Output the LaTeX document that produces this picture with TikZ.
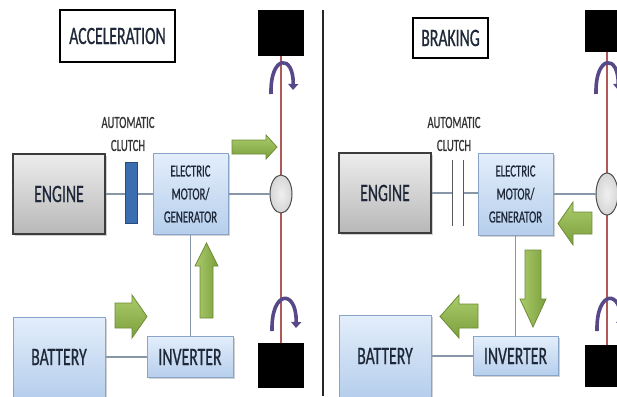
\documentclass[tikz,border=0pt]{standalone}
\usepackage{fontspec}
\newfontfamily\cf{Carlito}[FakeStretch=0.63,FakeBold=0.6]
\usetikzlibrary{shadows,arrows.meta,shapes.geometric}
\definecolor{blueT}{HTML}{E3EEFB}
\definecolor{blueB}{HTML}{B6CEEC}
\definecolor{blueBd}{HTML}{88A4C6}
\definecolor{greyBd}{HTML}{3C3C3C}
\definecolor{txt}{HTML}{1E2838}
\definecolor{wireC}{HTML}{8797A8}
\definecolor{axleC}{HTML}{B05858}
\definecolor{rotC}{HTML}{574888}
\definecolor{gT}{HTML}{AACB6A}
\definecolor{gB}{HTML}{7C9F3E}
\definecolor{gBd}{HTML}{6C8C36}
\definecolor{clutchC}{HTML}{3A6EB0}
\begin{document}
\begin{tikzpicture}[x=1pt,y=-1pt,
  bigtxt/.style={font=\cf\fontsize{25}{28}\selectfont},
  midtxt/.style={font=\cf\fontsize{17}{23}\selectfont},
  bluebox/.style={draw=blueBd, line width=1pt, top color=blueT, bottom color=blueB,
    drop shadow={shadow xshift=1.5pt, shadow yshift=-1.5pt, opacity=.35, fill=gray},
    text=txt, align=center, inner sep=0pt},
  greybox/.style={draw=greyBd, line width=1.2pt, top color=white!93!black, bottom color=white!72!black,
    drop shadow={shadow xshift=1.5pt, shadow yshift=-1.5pt, opacity=.35, fill=gray},
    text=txt, align=center, inner sep=0pt},
  titlebox/.style={draw=black, line width=1.5pt, fill=white, text=txt, inner sep=0pt},
  lbl/.style={midtxt, text=black!80, align=center, inner sep=0pt},
  clutchbar/.style={draw=clutchC!70!black, line width=.8pt, fill=clutchC, inner sep=0pt},
  wheel/.style={fill=black, draw=none, inner sep=0pt},
  diff/.style={ellipse, draw=black!70, line width=1pt, inner color=white!94!black, outer color=white!84!black, inner sep=0pt},
  wire/.style={draw=wireC, line width=1.2pt},
  axle/.style={draw=axleC, line width=1.6pt},
  rot/.style={draw=rotC, line width=3.6pt, -{Triangle[length=6pt,width=10pt]}},
  garrow/.style={draw=gBd, line width=.8pt, top color=gT, bottom color=gB},
  garrowv/.style={draw=gBd, line width=.8pt, left color=gT, right color=gB}
]
\useasboundingbox (0,0) rectangle (617,396);
\fill[white] (0,0) rectangle (617,396);
\clip (0,0) rectangle (617,396);

% ================= LEFT: ACCELERATION =================
\node[titlebox, bigtxt, minimum width=115, minimum height=52] (tA) at (117.5,36) {ACCELERATION};
\node[lbl] (clA) at (128,134) {AUTOMATIC\\CLUTCH};
\node[wheel, minimum width=46, minimum height=46] (wtA) at (281,33) {};
\node[wheel, minimum width=46, minimum height=45] (wbA) at (281,365.5) {};
\draw[axle] (wtA.south) -- (wbA.north);
\node[greybox, bigtxt, minimum width=92, minimum height=80] (engA) at (59,194) {ENGINE};
\node[bluebox, midtxt, minimum width=75, minimum height=81] (motA) at (190.5,194) {ELECTRIC\\MOTOR/\\GENERATOR};
\node[diff, minimum width=22, minimum height=38] (dA) at (281,194) {};
\draw[wire] (engA.east) -- (motA.west);
\draw[wire] (motA.east) -- (dA.west);
\node[clutchbar, minimum width=12, minimum height=61] (cbA) at (131,193) {};
\node[bluebox, bigtxt, minimum width=92, minimum height=80] (batA) at (59,357) {BATTERY};
\node[bluebox, bigtxt, minimum width=86, minimum height=41] (invA) at (190,357) {INVERTER};
\draw[wire] (motA.south) -- (motA.south |- invA.north);
\draw[wire] (batA.east) -- (invA.west);
\draw[rot] (271,94) .. controls (270,54) and (294,54) .. (293,90);
\draw[rot] (272,331) .. controls (271,289) and (297,289) .. (296,328);
% green arrows
\path[garrow] (232,140) -- (266,140) -- (266,135) -- (277,147) -- (266,159) -- (266,154) -- (232,154) -- cycle;
\path[garrowv] (200,318) -- (200,266) -- (195,266) -- (206.5,243) -- (218,266) -- (213,266) -- (213,318) -- cycle;
\path[garrow] (115,303) -- (132,303) -- (132,295) -- (147,316.5) -- (132,338) -- (132,328) -- (115,328) -- cycle;

% divider
\draw[line width=1.6pt, black!85] (323,10) -- (323,396);

% ================= RIGHT: BRAKING =================
\node[titlebox, bigtxt, minimum width=75, minimum height=40] (tB) at (450.5,38) {BRAKING};
\node[lbl] (clB) at (454,134) {AUTOMATIC\\CLUTCH};
\node[wheel, minimum width=36, minimum height=42] (wtB) at (603,31) {};
\node[wheel, minimum width=36, minimum height=42] (wbB) at (603,366) {};
\draw[axle] (607,52) -- (607,345);
\node[greybox, bigtxt, minimum width=92, minimum height=80] (engB) at (385,193) {ENGINE};
\node[bluebox, midtxt, minimum width=75, minimum height=82] (motB) at (515.5,194) {ELECTRIC\\MOTOR/\\GENERATOR};
\node[diff, minimum width=22, minimum height=42] (dB) at (607,194) {};
\node[inner sep=0pt, minimum width=10, minimum height=65] (cbB) at (458,193) {};
\draw[wire] (engB.east) -- (cbB.west);
\draw[wire] (cbB.east) -- (motB.west |- cbB.east);
\draw[line width=.9pt, black!65] (cbB.north west) -- (cbB.south west);
\draw[line width=.9pt, black!65] (cbB.north east) -- (cbB.south east);
\draw[wire] (motB.east |- dB.west) -- (dB.west);
\node[bluebox, bigtxt, minimum width=92, minimum height=82] (batB) at (385,356) {BATTERY};
\node[bluebox, bigtxt, minimum width=85, minimum height=39] (invB) at (515.5,356) {INVERTER};
\draw[wire] (motB.south) -- (motB.south |- invB.north);
\draw[wire] (batB.east) -- (invB.west);
\draw[rot] (596,94) .. controls (595,54) and (619,54) .. (618,90);
\draw[rot] (597,331) .. controls (596,289) and (622,289) .. (621,328);
% green arrows
\path[garrow] (592,212) -- (573,212) -- (573,202) -- (558,223.5) -- (573,245) -- (573,234) -- (592,234) -- cycle;
\path[garrowv] (525,250) -- (525,299) -- (520,299) -- (533,327) -- (546,299) -- (541,299) -- (541,250) -- cycle;
\path[garrow] (478,304) -- (459,304) -- (459,295) -- (440,316.5) -- (459,338) -- (459,328) -- (478,328) -- cycle;
\end{tikzpicture}
\end{document}
